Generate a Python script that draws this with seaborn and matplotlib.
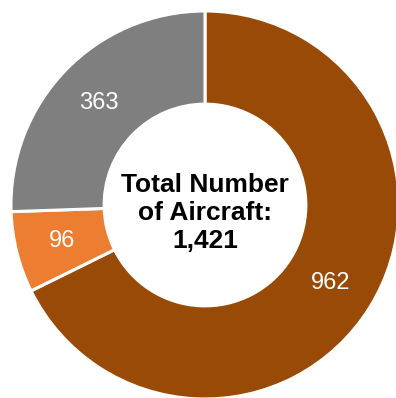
import matplotlib
matplotlib.use("Agg")
import matplotlib.pyplot as plt
import seaborn as sns

sns.set_theme(style="white")
plt.rcParams["font.family"] = ["Liberation Sans", "DejaVu Sans"]

categories = ["Group A", "Group B", "Group C"]
counts = [962, 96, 363]
colors = ["#9A4A07", "#ED7D31", "#7F7F7F"]
total = sum(counts)

W, H = 396, 398
fig = plt.figure(figsize=(W / 100, H / 100), dpi=100)
ax = fig.add_axes([0, 0, 1, 1])

# donut with white separators, drawn clockwise from 12 o'clock
wedges, texts, autotexts = ax.pie(
    counts,
    colors=colors,
    startangle=90,
    counterclock=False,
    radius=1.0,
    wedgeprops=dict(width=0.48, edgecolor="white", linewidth=2.2),
    autopct=lambda p: f"{round(p * total / 100):d}",
    pctdistance=0.76,
    textprops=dict(color="white", fontsize=17),
)

ax.text(0, -0.04, f"Total Number\nof Aircraft:\n{total:,}",
        ha="center", va="center", fontsize=19, fontweight="bold",
        color="black", linespacing=1.2)

# place the ring: centre at (205, 205) px from top-left, radius 194 px
s = 194.0
cx, cy = 205.0, H - 205.0
ax.set_xlim(-cx / s, (W - cx) / s)
ax.set_ylim(-cy / s, (H - cy) / s)
ax.set_aspect("auto")
ax.axis("off")

fig.savefig("out.png", dpi=100, facecolor="white")
